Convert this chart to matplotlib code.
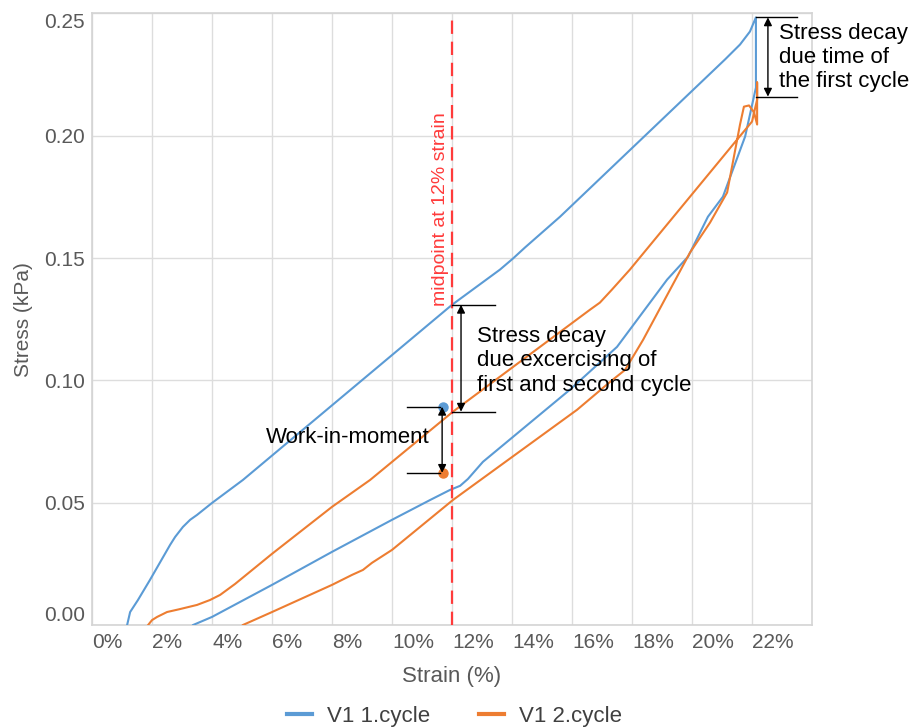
import numpy as np
import matplotlib
matplotlib.use("Agg")
import matplotlib.pyplot as plt

plt.rcParams['font.family'] = ['Liberation Sans', 'DejaVu Sans']

# cycle 1: loading, stress decay at max strain, unloading
strain_c1 = [1.17, 1.27, 1.53, 1.93, 2.6, 2.77, 3.03, 3.27, 3.5, 4.0, 5.03,
             12.0, 13.6, 14.03, 14.43, 15.6,
             21.1, 21.6, 21.93, 22.13,
             22.13, 21.77, 21.03, 20.53, 19.87, 19.17, 17.5, 15.93, 13.03,
             12.53, 12.27, 11.93, 11.27, 10.0, 8.0, 6.0, 4.0, 3.37]
stress_c1 = [0.0, 0.0053, 0.0102, 0.0184, 0.0327, 0.0360, 0.0401, 0.0430, 0.0450,
             0.0499, 0.0593,
             0.1309, 0.1453, 0.1498, 0.1543, 0.1669,
             0.2312, 0.2373, 0.2426, 0.2484,
             0.2197, 0.1997, 0.1751, 0.1669, 0.1506, 0.1412, 0.1137, 0.0962,
             0.0667, 0.0597, 0.0569, 0.0552, 0.0511, 0.0430, 0.0299, 0.0164,
             0.0033, 0.0]

# cycle 2
strain_c2 = [1.87, 2.0, 2.17, 2.5, 2.93, 3.5, 3.93, 4.27, 4.77, 6.0, 8.0, 9.27,
             12.03, 15.7, 16.6, 16.93, 17.33, 17.93, 21.5, 22.0, 22.17, 22.17,
             22.17, 22.07, 21.9, 21.73, 21.6,
             21.17, 20.6, 19.93, 18.37, 17.77, 17.27, 16.17, 12.03, 10.0, 9.33,
             9.03, 8.67, 8.0, 6.0, 5.03]
stress_c2 = [0.0, 0.0020, 0.0033, 0.0053, 0.0065, 0.0082, 0.0102, 0.0123, 0.0168,
             0.0291, 0.0483, 0.0593,
             0.0872, 0.1207, 0.1289, 0.1318, 0.1371, 0.1453, 0.1984, 0.2058,
             0.2148, 0.2218,
             0.2046, 0.2095, 0.2124, 0.2119, 0.2046,
             0.1768, 0.1645, 0.1522, 0.1166, 0.1043, 0.0994, 0.0880, 0.0511,
             0.0307, 0.0254, 0.0225, 0.0205, 0.0164, 0.0053, 0.0]

midpoint = 12.0
# work-in-moment points at the midpoint
work_strain = 11.7
work_c1 = 0.0892
work_c2 = 0.0622

# stress levels used by the decay brackets
peak_c1 = 0.2484
after_hold_c1 = 0.216
mid_load_c1 = 0.1309
mid_load_c2 = 0.0872

x_ticks = list(range(0, 23, 2))
y_ticks = [0.0, 0.05, 0.10, 0.15, 0.20, 0.25]

blue = '#5B9BD5'
orange = '#ED7D31'
red = '#FF3B3B'
tick_grey = '#595959'

fig = plt.figure(figsize=(9.13, 7.28), dpi=100)
ax = fig.add_axes([0.1008, 0.1415, 0.7886, 0.84])

ax.plot(strain_c1, stress_c1, color=blue, lw=1.5, label='V1 1.cycle', zorder=3,
        solid_joinstyle='round')
ax.plot(strain_c2, stress_c2, color=orange, lw=1.5, label='V1 2.cycle', zorder=3,
        solid_joinstyle='round')

ax.axvline(midpoint, color=red, lw=1.6, dashes=(6, 3.5), zorder=4)
ax.text(11.6, 0.170, 'midpoint at 12% strain', color=red, rotation=90,
        fontsize=14, ha='center', va='center')

ax.plot([work_strain], [work_c1], 'o', color=blue, ms=6.5, zorder=5)
ax.plot([work_strain], [work_c2], 'o', color=orange, ms=6.5, zorder=5)


def bracket(x0, x1, y_top, y_bot, x_arrow):
    ax.plot([x0, x1], [y_top, y_top], color='black', lw=1.0, zorder=6, clip_on=False)
    ax.plot([x0, x1], [y_bot, y_bot], color='black', lw=1.0, zorder=6, clip_on=False)
    ax.annotate('', xy=(x_arrow, y_bot), xytext=(x_arrow, y_top),
                arrowprops=dict(arrowstyle='<|-|>', color='black', lw=1.0,
                                mutation_scale=12, shrinkA=0, shrinkB=0),
                zorder=6, annotation_clip=False)


bracket(22.13, 23.5, peak_c1, after_hold_c1, 22.53)
ax.text(22.9, 0.232, 'Stress decay\ndue time of\nthe first cycle', fontsize=16,
        ha='left', va='center', clip_on=False)

bracket(midpoint, 13.43, mid_load_c1, mid_load_c2, 12.3)
ax.text(12.83, 0.108, 'Stress decay\ndue excercising of\nfirst and second cycle',
        fontsize=16, ha='left', va='center')

bracket(10.5, 11.6, work_c1, work_c2, 11.67)
ax.text(11.27, 0.0765, 'Work-in-moment', fontsize=16, ha='right', va='center')

ax.set_xlim(0, 24)
ax.set_ylim(0, 0.25)
ax.set_xticks(x_ticks)
ax.set_xticklabels([f'{t}%' for t in x_ticks], ha='left')
ax.set_yticks(y_ticks)
ax.set_yticklabels([f'{t:.2f}' for t in y_ticks])
ylabels = ax.get_yticklabels()
ylabels[0].set_va('bottom')
ylabels[-1].set_va('top')

ax.tick_params(axis='both', length=0, labelsize=15, colors=tick_grey)
ax.tick_params(axis='x', pad=6)
ax.tick_params(axis='y', pad=5)
ax.grid(True, color='#dddddd', lw=1.0)
ax.set_axisbelow(True)
for side in ax.spines.values():
    side.set_color('#d4d4d4')
    side.set_linewidth(1.2)

ax.set_xlabel('Strain (%)', fontsize=16, color=tick_grey, labelpad=10)
ax.set_ylabel('Stress (kPa)', fontsize=15, color=tick_grey, labelpad=8)

fig.legend(loc='center', bbox_to_anchor=(0.498, 0.016), ncol=2, frameon=False,
           fontsize=16, handlelength=1.1, columnspacing=2.2, handletextpad=0.7,
           labelcolor='#404040')
for line in fig.legends[0].get_lines():
    line.set_linewidth(3)

fig.savefig('out.png', dpi=100, facecolor='white')
